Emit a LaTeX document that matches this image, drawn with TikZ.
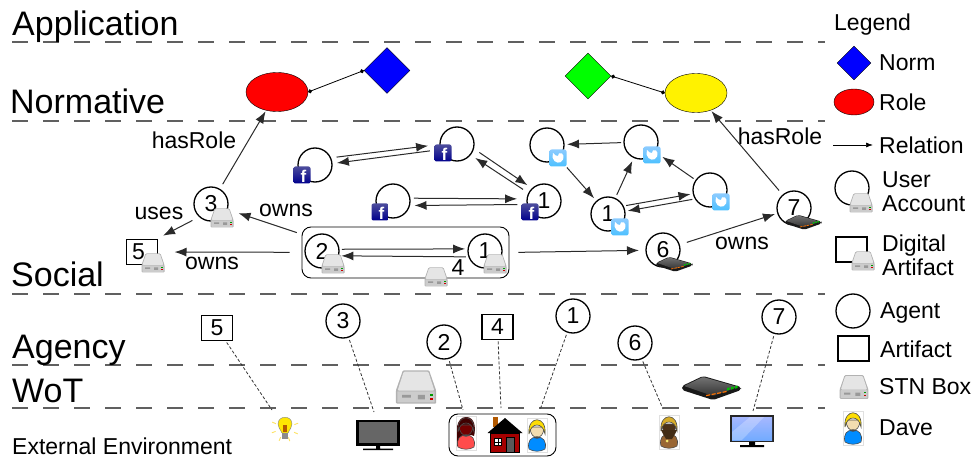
\documentclass[tikz,border=0pt]{standalone}
\usepackage{fontspec}
\setmainfont{Liberation Sans}
\usepackage{xcolor}
\usetikzlibrary{shapes.geometric}
\usetikzlibrary{arrows.meta}
\definecolor{sepgray}{HTML}{606060}
\definecolor{wiregray}{HTML}{2A2A2A}
\definecolor{skin}{HTML}{F2DDB0}
\tikzset{
	big/.style={font=\fontsize{34}{36}\selectfont, inner sep=0, anchor=base west},
	lab/.style={font=\fontsize{23}{24}\selectfont, inner sep=0},
	agent/.style={circle, draw, line width=1.3pt, minimum size=34pt, inner sep=0, outer sep=3pt, font=\fontsize{23}{24}\selectfont},
	artifact/.style={rectangle, draw, line width=1.3pt, minimum width=31pt, minimum height=25pt, inner sep=0, outer sep=2pt, font=\fontsize{23}{24}\selectfont},
	rel/.style={wiregray, line width=1pt, -{Latex[length=12pt,width=9pt]}},
	link/.style={black, line width=0.8pt, {Circle[length=4pt]}-{Circle[length=4pt]}},
	trace/.style={black!80, line width=0.8pt, dash pattern=on 3pt off 2pt},
	stnbox/.pic={
		\fill[black!30, rounded corners=1pt] (-11.5,2) -- (-7.5,-9.5) -- (7.5,-9.5) -- (11.5,2) -- (11.5,9.5) -- (-11.5,9.5) -- cycle;
		\fill[black!10, rounded corners=1pt] (-10.5,2) -- (-7,-8.8) -- (7,-8.8) -- (10.5,2) -- cycle;
		\fill[black!20, rounded corners=.5pt] (-10.7,2.5) rectangle (10.7,8.8);
		\fill[black!40] (-8,4.5) rectangle (-3,6) (1,4.5) rectangle (5,7);
		\fill[green!60!black] (8,4) rectangle (9.5,5);
		\fill[red!80!black] (8,6) rectangle (9.5,7.5);
	},
	router/.pic={
		\fill[black!90, rounded corners=2pt] (-29,0) -- (-8,-10) -- (30,1) -- (30,4) -- (2,14) -- (-29,4) -- cycle;
		\shade[top color=black!55, bottom color=black!80, rounded corners=1pt] (-27,0) -- (-8,-9) -- (27,1) -- (2,10) -- cycle;
		\foreach \i in {0,1,2,3}{
			\fill[orange!90!red] (-5+\i*5.5,9-\i*1.1) -- ++(4,-.8) -- ++(0,1.2) -- ++(-4,.8) -- cycle;
		}
		\foreach \i in {0,1,2}{
			\fill[green!75!black] (16+\i*4,4.5-\i*.9) -- ++(2.5,-.6) -- ++(0,-2.5) -- ++(-2.5,.6) -- cycle;
		}
	},
	fbicon/.pic={
		\shade[top color=blue!45!black!70!white, bottom color=blue!55!black, rounded corners=2pt] (-8.5,-8.5) rectangle (8.5,8.5);
		\node[font=\bfseries\fontsize{17}{17}\selectfont, text=white, inner sep=0] (f) at (1.5,1.5) {f};
	},
	twicon/.pic={
		\shade[top color=cyan!55!blue!45, bottom color=cyan!65!blue!70, rounded corners=2pt] (-8.5,-8.5) rectangle (8.5,8.5);
		\fill[white] (-5.5,-.5) .. controls (-4,5.5) and (3,6.5) .. (5,1.5) .. controls (6,-2) and (5.5,-3) .. (4,-4.5) .. controls (2,-6) and (-.5,-4.5) .. (0,-2) .. controls (-2,-2) and (-3.5,-3) .. (-5,-5) .. controls (-5.5,-3.5) and (-5.5,-2) .. cycle;
	},
	pics/person/.style n args={3}{code={
		\draw[black!12, line width=.4pt] (-10,-17) rectangle (10,17);
		\fill[#1, draw=black!70, line width=.6pt] (-8,14) .. controls (-10,6) and (-6,2) .. (0,2) .. controls (6,2) and (10,6) .. (8,14) .. controls (4,17) and (-4,17) .. (-8,14);
		\fill[#3, draw=black!70, line width=.6pt] (-7,-8) .. controls (-7,6) and (7,6) .. (7,-8) -- cycle;
		\fill[#2, draw=black!70, line width=.6pt] (-8,-1) .. controls (-10,-20) and (10,-20) .. (8,-1) .. controls (6,-13) and (-6,-13) .. (-8,-1);
		\fill[black!70] (-3.5,2.5) .. controls (-2,1) and (2,1) .. (3.5,2.5) .. controls (2,4) and (-2,4) .. (-3.5,2.5);
	}},
	longhair/.pic={
		\fill[black!75!red] (-9,13) .. controls (-11,0) and (-10,-16) .. (0,-16) .. controls (9,-16) and (10,-5) .. (8,3) .. controls (2,0) and (-2,4) .. (-4,15) -- cycle;
	},
	hatband/.pic={
		\fill[brown!35!black] (-8,-2) -- (8,-2) -- (6,2) -- (3,7) -- (-3,7) -- (-6,2) -- cycle;
		\fill[brown!25!yellow!60!white] (-2,9) circle (1.5);
	},
	house/.pic={
		\fill[orange!70!black] (-12.5,-18) rectangle (-7,-8);
		\fill[red!65!black, draw=black, line width=.5pt] (-14.5,-2) rectangle (14.5,17);
		\fill[black] (-17.5,-2) -- (0,-17) -- (17.5,-2) -- cycle;
		\fill[black!65, draw=black, line width=.4pt] (1,2) rectangle (9.5,17);
		\fill[white, draw=black, line width=.4pt] (-11,3) rectangle (-3.5,10.5);
		\draw[black, line width=.4pt] (-7.2,3) -- (-7.2,10.5) (-11,6.7) -- (-3.5,6.7);
	},
	lamp/.pic={
		\foreach \a in {-20,25,70,115,160,205}{
			\draw[yellow!70!orange!60, line width=.9pt] (\a:10) -- (\a:14);
		}
		\fill[yellow!90!orange, draw=black!50, line width=.4pt] (-3,5) .. controls (-5,1) and (-7,-1) .. (-7,-4) .. controls (-7,-13) and (7,-13) .. (7,-4) .. controls (7,-1) and (5,1) .. (3,5) -- cycle;
		\fill[orange!70!black] (-2,-3) rectangle (2,4);
		\fill[black!45] (-3,5) rectangle (3,11);
	},
	tvset/.pic={
		\fill[black] (-22,-13) rectangle (22,13);
		\fill[black!60] (-19,-11) rectangle (19,10);
		\fill[black] (-2,13) rectangle (2,16) (-15,15.5) rectangle (15,17);
	},
	screen/.pic={
		\fill[black!85] (-22,-15) rectangle (22,12);
		\shade[top color=cyan!20!blue!35, bottom color=cyan!40!blue!55] (-20,-13) rectangle (20,10);
		\fill[white, opacity=.25] (-20,2) -- (-2,-13) -- (12,-13) -- (-10,10) -- (-20,10) -- cycle;
		\fill[black] (-3,12) rectangle (3,15.5) (-12,15) rectangle (12,17);
	},
}
\begin{document}
\begin{tikzpicture}[x=1pt, y=-1pt]
	\useasboundingbox (0,0) rectangle (975,457);
	\foreach \y in {42,121,294,365,408}{
		\draw[sepgray, line width=1.4pt, dash pattern=on 16pt off 15pt] (12,\y) -- (825,\y);
	}
	\node[big] (appl) at (12,36) {Application};
	\node[big] (norm) at (10,114) {Normative};
	\node[big] (soci) at (11,287) {Social};
	\node[big] (agen) at (12,358) {Agency};
	\node[big] (wot) at (12,402) {WoT};
	\node[lab, anchor=base west] (extern) at (12,454) {External Environment};

	\node[ellipse, draw, fill=red, minimum width=62pt, minimum height=39pt, inner sep=0] (roleA) at (277,92) {};
	\node[diamond, draw, fill=blue, minimum size=46pt, inner sep=0] (normA) at (387,70.5) {};
	\node[diamond, draw, fill=green, minimum size=46pt, inner sep=0] (normB) at (588,76) {};
	\node[ellipse, draw, fill=yellow, minimum width=62pt, minimum height=39pt, inner sep=0] (roleB) at (696,93) {};
	\draw[link] (roleA.east) -- (normA.west);
	\draw[link] (normB.east) -- (roleB.west);

	\foreach \n/\x/\y in {fbA/315/165, fbB/457/144, fbC/393/201, twA/547/145, twB/641/142, twC/710/190}{
		\node[agent] (\n) at (\x,\y) {};
	}
	\node[agent] (fbD) at (544,201) {1};
	\node[agent] (twD) at (608,214) {1};
	\node[agent] (a3) at (211,204) {3};
	\node[artifact] (d5) at (142,252) {\hspace{-7pt}5};
	\node[draw, rounded corners=9pt, line width=.9pt, minimum width=207pt, minimum height=51pt, inner sep=0] (grp) at (405.5,252.5) {};
	\node[agent] (a2) at (322,251) {2};
	\node[agent] (a1) at (485,251) {1};
	\node[lab] (four) at (458,268) {4};
	\node[agent] (a6) at (663,250) {6};
	\node[agent] (a7) at (794,208) {7};

	\foreach \x/\y in {302/175, 443/153, 380/212, 530/212}{
		\pic at (\x,\y) {fbicon};
	}
	\foreach \x/\y in {558/158, 652/155, 721/202, 620/227}{
		\pic at (\x,\y) {twicon};
	}
	\foreach \x/\y in {222/218, 153/263, 333/264, 495/264, 436/277}{
		\pic at (\x,\y) {stnbox};
	}
	\pic[scale=.62] at (674,263) {router};
	\pic[scale=.62] at (803,221) {router};

	\draw[rel, shorten <=3pt, shorten >=1pt] (a3) -- (roleA);
	\draw[rel, shorten <=3pt, shorten >=1pt] (a7) -- (roleB);
	\node[lab] (hasA) at (194,140) {hasRole};
	\node[lab] (hasB) at (780,136) {hasRole};
	\draw[rel, shorten <=5pt, shorten >=4pt] (a3.225) -- (d5.north east);
	\node[lab] (usesA) at (159,213) {uses};
	\draw[rel, shorten <=5pt, shorten >=9pt] (grp.170) -- (a3);
	\node[lab] (ownsA) at (286,210) {owns};
	\draw[rel, shorten <=12pt, shorten >=15pt] (grp) -- (d5);
	\node[lab] (ownsB) at (212,263) {owns};
	\draw[rel, shorten <=9pt, shorten >=4pt] (grp.east) -- (a6);
	\draw[rel, shorten <=5pt, shorten >=0pt] (a6) -- (a7);
	\node[lab] (ownsC) at (742,243) {owns};

	\draw[rel] (a2.5) -- (a1.174);
	\draw[rel] (a1.197) -- (a2.-14);
	\draw[rel, shorten <=3pt, shorten >=9pt] (fbA.22) -- (fbB.182);
	\draw[rel, shorten <=8pt, shorten >=2pt] (fbB.197) -- (fbA.5);
	\draw[rel, shorten <=4pt, shorten >=3pt] (fbB.-18) -- (fbD.135);
	\draw[rel, shorten <=4pt, shorten >=3pt] (fbD.152) -- (fbB.-38);
	\draw[rel, shorten <=1pt, shorten >=7pt] (fbC.8) -- (fbD.174);
	\draw[rel, shorten <=7pt, shorten >=2pt] (fbD.190) -- (fbC.-13);
	\draw[rel, shorten <=0pt, shorten >=0pt] (twB) -- (twA);
	\draw[rel, shorten <=10pt, shorten >=1pt] (twA) -- (twD);
	\draw[rel, shorten <=1pt, shorten >=1pt] (twD) -- (twB);
	\draw[rel, shorten <=0pt, shorten >=6pt] (twC) -- (twB);
	\draw[rel] (twD.25) -- (twC.192);
	\draw[rel] (twC.208) -- (twD.9);

	\node[artifact] (e5) at (217,328) {5};
	\node[agent] (e3) at (343,321) {3};
	\node[agent] (e2) at (444,342) {2};
	\node[artifact] (e4) at (497.5,327) {4};
	\node[agent] (e1) at (573,316) {1};
	\node[agent] (e6) at (635,343) {6};
	\node[agent] (e7) at (779,317) {7};

	\pic[scale=1.75] at (416,387) {stnbox};
	\pic at (711,386) {router};

	\node[draw, rounded corners=9pt, line width=.9pt, minimum width=107pt, minimum height=42pt, inner sep=0] (env) at (502.5,435) {};
	\pic at (285,428) {lamp};
	\pic at (378,433) {tvset};
	\pic at (466,433) {longhair};
	\pic at (466,433) {person={red!70!white}{black!75!red}{black!55!red}};
	\pic at (505,435) {house};
	\pic at (537,435) {person={blue!45!cyan}{yellow!80!orange}{skin}};
	\pic at (669,432) {person={brown!80!black}{brown!65!yellow}{brown!40!black}};
	\pic at (669,432) {hatband};
	\pic at (752,430) {screen};

	\coordinate (lampTop) at (272,410);
	\coordinate (tvTop) at (374,412);
	\coordinate (envA) at (463,410);
	\coordinate (envB) at (501,408);
	\coordinate (envC) at (540,410);
	\coordinate (spyTop) at (663,409);
	\coordinate (screenTop) at (753,411);
	\foreach \a/\b in {e5/lampTop, e3/tvTop, e2/envA, e4/envB, e1/envC, e6/spyTop, e7/screenTop}{
		\draw[trace] (\a) -- (\b);
	}

	\node[lab, anchor=west] (lgd) at (834,25) {Legend};
	\node[diamond, draw, fill=blue, minimum size=34pt, inner sep=0] (lgdNorm) at (854,63) {};
	\node[lab, anchor=west] (txtNorm) at (879,63) {Norm};
	\node[ellipse, draw, fill=red, minimum width=40pt, minimum height=26pt, inner sep=0] (lgdRole) at (854,102) {};
	\node[lab, anchor=west] (txtRole) at (879,102) {Role};
	\coordinate (relA) at (833,145);
	\coordinate (relB) at (873,145);
	\draw[black, line width=.7pt, -{Latex[length=7pt,width=5pt]}] (relA) -- (relB);
	\node[lab, anchor=west] (txtRel) at (879,145) {Relation};
	\node[agent] (lgdUser) at (852,188) {};
	\pic at (861,203) {stnbox};
	\node[lab, anchor=west, align=left] (txtUser) at (882,192) {User\\Account};
	\node[artifact] (lgdDig) at (851.5,249.5) {};
	\pic at (863,261) {stnbox};
	\node[lab, anchor=west, align=left] (txtDig) at (882,255) {Digital\\Artifact};
	\node[agent] (lgdAg) at (853,311) {};
	\node[lab, anchor=west] (txtAg) at (880,313) {Agent};
	\node[artifact] (lgdArt) at (853.5,348.5) {};
	\node[lab, anchor=west] (txtArt) at (880,349) {Artifact};
	\pic[scale=1.25] at (854,387) {stnbox};
	\node[lab, anchor=west] (txtStn) at (879,387) {STN Box};
	\pic at (853,428) {person={blue!45!cyan}{yellow!80!orange}{skin}};
	\node[lab, anchor=west] (txtDave) at (879,428) {Dave};
\end{tikzpicture}
\end{document}
